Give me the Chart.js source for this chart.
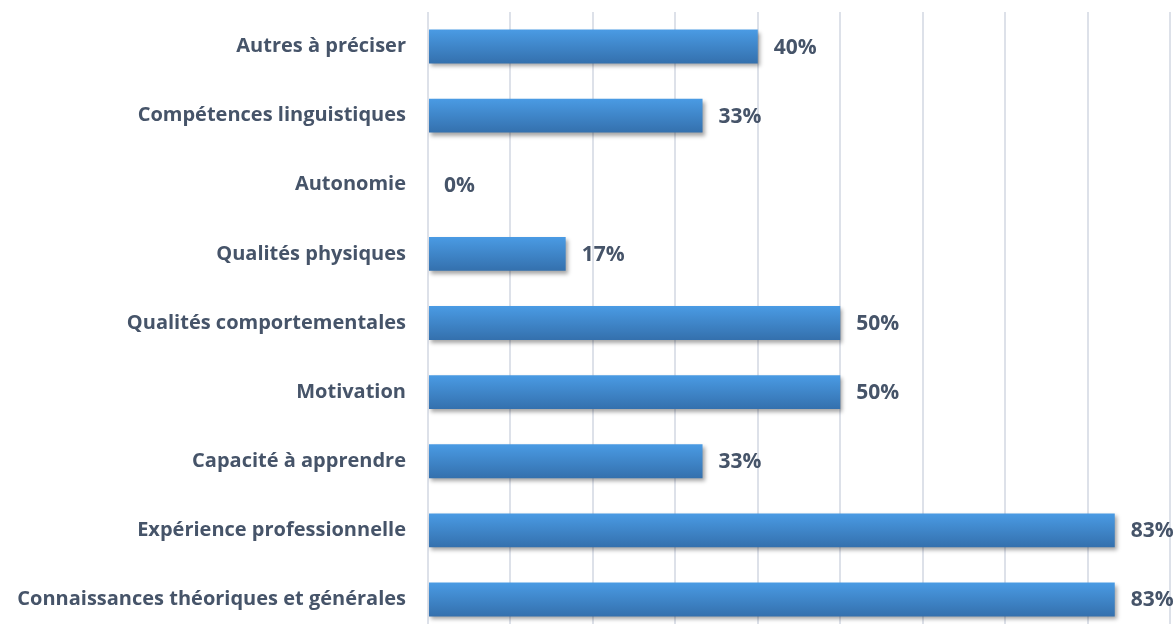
<!DOCTYPE html>
<html>
<head>
<meta charset="utf-8">
<script src="https://cdn.jsdelivr.net/npm/chart.js@4"></script>
<style>
  html, body { margin: 0; padding: 0; background: #fff; overflow: hidden; }
  canvas { display: block; }
</style>
</head>
<body>
<canvas id="competencesChart" width="1176" height="646"></canvas>
<script>
// categories (top to bottom) and percentages
var categories = [
    'Autres à préciser',
    'Compétences linguistiques',
    'Autonomie',
    'Qualités physiques',
    'Qualités comportementales',
    'Motivation',
    'Capacité à apprendre',
    'Expérience professionnelle',
    'Connaissances théoriques et générales'
];
var pourcentages = [40, 33.3, 0, 16.7, 50, 50, 33.3, 83.3, 83.3];
var xTicks = [0, 10, 20, 30, 40, 50, 60, 70, 80, 90];

var couleurTexte = '#465469';
var policeTexte = '"Open Sans", "DejaVu Sans", sans-serif';

// degrade bleu pour chaque barre (clair en haut, fonce en bas)
function degradeBarre(context) {
    var chart = context.chart;
    var yScale = chart.scales.y;
    if (!yScale || !chart.chartArea) return '#3f88d3';
    var centre = yScale.getPixelForValue(context.dataIndex);
    var g = chart.ctx.createLinearGradient(0, centre - 17, 0, centre + 17);
    g.addColorStop(0, '#4a9be4');
    g.addColorStop(1, '#3470ad');
    return g;
}

// ombre sous les barres
var ombrePlugin = {
    id: 'ombre',
    beforeDatasetsDraw: function(chart) {
        var ctx = chart.ctx;
        ctx.save();
        ctx.shadowColor = 'rgba(0, 0, 0, 0.35)';
        ctx.shadowBlur = 4;
        ctx.shadowOffsetX = 2;
        ctx.shadowOffsetY = 3;
    },
    afterDatasetsDraw: function(chart) {
        chart.ctx.restore();
    }
};

// etiquettes de valeur a droite des barres (arrondies)
var etiquettesPlugin = {
    id: 'etiquettes',
    afterDatasetsDraw: function(chart) {
        var ctx = chart.ctx;
        var meta = chart.getDatasetMeta(0);
        ctx.save();
        ctx.font = 'bold 21px ' + policeTexte;
        ctx.fillStyle = couleurTexte;
        ctx.textAlign = 'left';
        ctx.textBaseline = 'middle';
        meta.data.forEach(function(bar, i) {
            ctx.fillText(Math.round(pourcentages[i]) + '%', bar.x + 16, bar.y + 1);
        });
        ctx.restore();
    }
};

var ctx = document.getElementById('competencesChart').getContext('2d');
var myBarChart = new Chart(ctx, {
    type: 'bar',
    data: {
        labels: categories,
        datasets: [{
            data: pourcentages,
            backgroundColor: degradeBarre,
            borderWidth: 0,
            categoryPercentage: 1,
            barPercentage: 0.49
        }]
    },
    options: {
        indexAxis: 'y',
        responsive: false,
        animation: false,
        layout: { padding: { top: 12, right: 6, bottom: 12, left: 0 } },
        plugins: {
            legend: { display: false },
            tooltip: { enabled: false }
        },
        scales: {
            x: {
                min: 0,
                max: 90,
                afterBuildTicks: function(scale) {
                    scale.ticks = xTicks.map(function(v) { return { value: v }; });
                },
                afterFit: function(scale) { scale.height = 0; },
                ticks: { display: false },
                grid: { color: '#dde1e9', lineWidth: 2, drawTicks: false },
                border: { display: false }
            },
            y: {
                afterFit: function(scale) {
                    scale.width = 428;
                    scale.paddingTop = 0;
                    scale.paddingBottom = 0;
                },
                grid: { display: false, drawTicks: false },
                border: { display: false },
                ticks: {
                    padding: 22,
                    color: couleurTexte,
                    font: { family: policeTexte, size: 20, weight: 'bold' }
                }
            }
        }
    },
    plugins: [ombrePlugin, etiquettesPlugin]
});
</script>
</body>
</html>
